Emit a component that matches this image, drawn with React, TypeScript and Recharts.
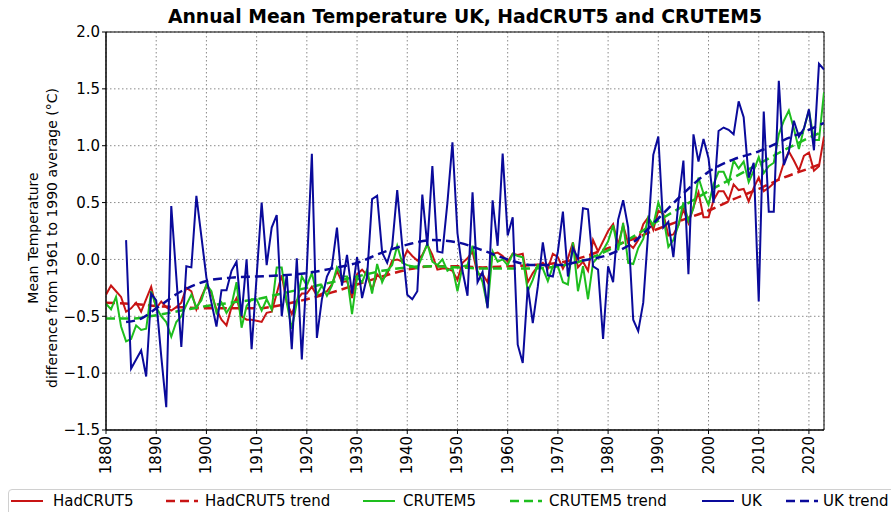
import React from "react";
import { LineChart, Line, XAxis, YAxis, CartesianGrid, ReferenceArea } from "recharts";

const FIRST_YEAR = 1880;
const UK_FIRST_YEAR = 1884;
const X_TICKS = [1880, 1890, 1900, 1910, 1920, 1930, 1940, 1950, 1960, 1970, 1980, 1990, 2000, 2010, 2020];
const Y_TICKS = [-1.5, -1.0, -0.5, 0.0, 0.5, 1.0, 1.5, 2.0];

const TITLE = "Annual Mean Temperature UK, HadCRUT5 and CRUTEM5";
const Y_LABEL_1 = "Mean Temperature";
const Y_LABEL_2 = "difference from 1961 to 1990 average (°C)";

// HadCRUT5 annual values 1880..2023
const HADCRUT5 = [
  -0.31, -0.23, -0.28, -0.33, -0.46, -0.43, -0.38, -0.46, -0.35, -0.24,
  -0.43, -0.37, -0.42, -0.45, -0.42, -0.38, -0.25, -0.28, -0.44, -0.33,
  -0.23, -0.30, -0.44, -0.53, -0.58, -0.42, -0.34, -0.50, -0.53, -0.53,
  -0.54, -0.55, -0.47, -0.46, -0.30, -0.14, -0.38, -0.48, -0.36, -0.30,
  -0.30, -0.24, -0.32, -0.30, -0.28, -0.22, -0.10, -0.20, -0.19, -0.34,
  -0.13, -0.09, -0.14, -0.27, -0.13, -0.18, -0.13, -0.01, 0.00, -0.02,
  0.08, 0.03, -0.01, 0.04, 0.13, 0.04, -0.09, -0.08, -0.08, -0.10,
  -0.18, -0.03, 0.01, 0.07, -0.13, -0.13, -0.20, 0.05, 0.06, 0.03,
  -0.02, 0.05, 0.04, 0.05, -0.20, -0.12, -0.06, -0.03, -0.08, 0.05,
  0.02, -0.08, 0.01, 0.15, -0.07, -0.02, -0.10, 0.17, 0.07, 0.16,
  0.25, 0.31, 0.13, 0.30, 0.14, 0.10, 0.17, 0.31, 0.37, 0.26,
  0.43, 0.40, 0.21, 0.22, 0.30, 0.44, 0.32, 0.46, 0.59, 0.37,
  0.37, 0.52, 0.60, 0.60, 0.52, 0.66, 0.61, 0.62, 0.51, 0.63,
  0.72, 0.60, 0.63, 0.67, 0.71, 0.85, 0.95, 0.87, 0.78, 0.91,
  0.94, 0.78, 0.82, 1.08,
];

// CRUTEM5 annual values 1880..2023
const CRUTEM5 = [
  -0.39, -0.44, -0.33, -0.59, -0.72, -0.70, -0.58, -0.62, -0.61, -0.28,
  -0.42, -0.50, -0.55, -0.68, -0.55, -0.50, -0.40, -0.31, -0.42, -0.36,
  -0.22, -0.28, -0.47, -0.38, -0.47, -0.40, -0.20, -0.60, -0.41, -0.35,
  -0.35, -0.45, -0.35, -0.44, -0.07, -0.07, -0.38, -0.61, -0.38, -0.15,
  -0.23, -0.12, -0.31, -0.23, -0.32, -0.23, -0.07, -0.15, -0.15, -0.48,
  -0.16, -0.20, -0.09, -0.30, -0.04, -0.20, -0.10, -0.05, 0.12, -0.03,
  -0.05, -0.06, -0.08, 0.03, 0.14, -0.02, -0.05, 0.00, -0.10, -0.07,
  -0.28, -0.06, -0.05, 0.12, -0.10, -0.20, -0.42, 0.07, -0.02, 0.00,
  -0.05, 0.05, 0.03, 0.02, -0.28, -0.18, -0.05, -0.08, -0.19, -0.06,
  -0.06, -0.20, -0.22, 0.15, -0.28, -0.06, -0.35, -0.03, 0.02, 0.08,
  0.16, 0.30, 0.08, 0.32, -0.03, -0.04, 0.10, 0.18, 0.37, 0.30,
  0.50, 0.38, 0.11, 0.17, 0.30, 0.50, 0.34, 0.45, 0.72, 0.58,
  0.48, 0.66, 0.77, 0.77, 0.67, 0.87, 0.80, 0.86, 0.68, 0.78,
  0.90, 0.76, 0.82, 0.85, 1.10, 1.22, 1.31, 1.15, 0.97, 1.15,
  1.31, 1.05, 1.05, 1.47,
];

// UK annual values 1884..2023
const UK = [
  0.17, -0.96, -0.88, -0.80, -1.03, -0.30, -0.36, -0.85, -1.30, 0.47,
  -0.15, -0.77, -0.06, -0.07, 0.56, 0.20, -0.16, -0.38, -0.59, -0.27,
  -0.27, -0.10, -0.02, -0.50, 0.00, -0.79, -0.15, 0.50, -0.05, 0.28,
  0.39, -0.50, -0.13, -0.79, 0.01, -0.88, -0.08, 0.93, -0.69, -0.35,
  -0.15, -0.06, 0.28, -0.23, 0.04, -0.30, 0.02, -0.34, -0.15, 0.53,
  0.56, 0.06, -0.03, 0.12, 0.61, 0.12, -0.31, -0.35, -0.28, 0.57,
  0.12, 0.82, 0.07, 0.06, 0.50, 1.03, 0.23, -0.10, -0.32, 0.59,
  -0.20, -0.11, -0.43, 0.52, 0.12, 0.93, 0.21, 0.37, -0.75, -0.91,
  -0.24, -0.56, -0.24, 0.15, -0.14, -0.15, 0.07, 0.42, -0.15, 0.10,
  0.01, 0.45, 0.44, -0.06, -0.09, -0.70, -0.06, -0.20, 0.35, 0.52,
  0.28, -0.53, -0.63, -0.38, 0.25, 0.92, 1.08, 0.28, 0.33, 0.02,
  0.50, 0.87, -0.13, 1.10, 0.86, 1.06, 0.89, 0.50, 1.13, 1.16,
  1.14, 1.10, 1.39, 1.25, 0.72, 0.85, -0.37, 1.30, 0.42, 0.42,
  1.57, 0.83, 0.95, 1.22, 1.08, 1.15, 1.32, 0.96, 1.72, 1.67,
];

// Trend lines (read at intervals)
const HADCRUT5_TREND_YEARS = [1880, 1885, 1890, 1895, 1900, 1905, 1910, 1915, 1920, 1925, 1930, 1935, 1940, 1945, 1950, 1955, 1960, 1965, 1970, 1975, 1980, 1985, 1990, 1995, 2000, 2005, 2010, 2015, 2020, 2023];
const HADCRUT5_TREND = [-0.38, -0.39, -0.41, -0.42, -0.43, -0.43, -0.43, -0.40, -0.35, -0.29, -0.22, -0.15, -0.09, -0.06, -0.06, -0.07, -0.06, -0.05, -0.03, 0.02, 0.10, 0.18, 0.27, 0.35, 0.43, 0.53, 0.62, 0.72, 0.80, 0.85];

const CRUTEM5_TREND_YEARS = [1880, 1885, 1890, 1895, 1900, 1905, 1910, 1915, 1920, 1925, 1930, 1935, 1940, 1945, 1950, 1955, 1960, 1965, 1970, 1975, 1980, 1985, 1990, 1995, 2000, 2005, 2010, 2015, 2020, 2023];
const CRUTEM5_TREND = [-0.52, -0.52, -0.49, -0.45, -0.41, -0.38, -0.35, -0.30, -0.25, -0.20, -0.15, -0.10, -0.07, -0.06, -0.07, -0.08, -0.08, -0.08, -0.06, -0.01, 0.08, 0.20, 0.34, 0.47, 0.60, 0.72, 0.84, 0.96, 1.07, 1.13];

const UK_TREND_YEARS = [1884, 1887, 1890, 1895, 1900, 1905, 1910, 1915, 1920, 1925, 1930, 1935, 1940, 1945, 1950, 1955, 1960, 1965, 1970, 1975, 1980, 1985, 1990, 1995, 2000, 2005, 2010, 2015, 2020, 2023];
const UK_TREND = [-0.55, -0.52, -0.43, -0.28, -0.19, -0.16, -0.15, -0.14, -0.12, -0.08, -0.03, 0.06, 0.13, 0.17, 0.15, 0.08, 0.00, -0.05, -0.05, -0.01, 0.04, 0.15, 0.36, 0.58, 0.77, 0.88, 0.95, 1.05, 1.14, 1.20];

const RED = "#c81414";
const GREEN = "#1ebe1e";
const BLUE = "#0a0a9b";
const FONT = "'DejaVu Sans', sans-serif";
const FS = 15;

const annual = HADCRUT5.map((v, i) => {
  const year = FIRST_YEAR + i;
  const ui = year - UK_FIRST_YEAR;
  return { year, hadcrut5: v, crutem5: CRUTEM5[i], uk: ui >= 0 ? UK[ui] : null };
});
const hadTrend = HADCRUT5_TREND_YEARS.map((year, i) => ({ year, value: HADCRUT5_TREND[i] }));
const cruTrend = CRUTEM5_TREND_YEARS.map((year, i) => ({ year, value: CRUTEM5_TREND[i] }));
const ukTrend = UK_TREND_YEARS.map((year, i) => ({ year, value: UK_TREND[i] }));

const fmtY = (v: number) => v.toFixed(1).replace("-", "\u2212");

const XTick = (props: any) => {
  const { x, y, payload } = props;
  return (
    <text
      x={x}
      y={y}
      transform={`rotate(-90, ${x}, ${y})`}
      textAnchor="end"
      dominantBaseline="central"
      fontFamily={FONT}
      fontSize={FS}
      fill="#000"
    >
      {payload.value}
    </text>
  );
};

const LEGEND_ITEMS = [
  { label: "HadCRUT5", color: RED, dashed: false, hx: 11, tx: 53 },
  { label: "HadCRUT5 trend", color: RED, dashed: true, hx: 166, tx: 205 },
  { label: "CRUTEM5", color: GREEN, dashed: false, hx: 363, tx: 403 },
  { label: "CRUTEM5 trend", color: GREEN, dashed: true, hx: 510, tx: 549 },
  { label: "UK", color: BLUE, dashed: false, hx: 702, tx: 741 },
  { label: "UK trend", color: BLUE, dashed: true, hx: 786, tx: 823 },
];

export default function App() {
  return (
    <div
      style={{
        position: "absolute",
        left: 0,
        top: 0,
        width: 891,
        height: 512,
        overflow: "hidden",
        background: "#fff",
        fontFamily: FONT,
      }}
    >
      <div
        style={{
          position: "absolute",
          left: 106,
          width: 718,
          top: 6,
          textAlign: "center",
          fontWeight: "bold",
          fontSize: 18.8,
          lineHeight: "normal",
          whiteSpace: "nowrap",
          color: "#000",
        }}
      >
        {TITLE}
      </div>
      <div
        style={{
          position: "absolute",
          left: 42.5,
          top: 238,
          transform: "translate(-50%, -50%) rotate(-90deg)",
          textAlign: "center",
          fontSize: 14,
          lineHeight: "19px",
          whiteSpace: "nowrap",
          color: "#000",
        }}
      >
        <div>{Y_LABEL_1}</div>
        <div>{Y_LABEL_2}</div>
      </div>
      <div style={{ position: "absolute", left: 0, top: 0 }}>
        <LineChart
          width={891}
          height={512}
          data={annual}
          margin={{ top: 32, right: 67, bottom: 22, left: 46 }}
        >
          <CartesianGrid stroke="#8a8a8a" strokeDasharray="1.5 2.5" strokeWidth={1} />
          <XAxis
            dataKey="year"
            type="number"
            domain={[1880, 2023]}
            ticks={X_TICKS}
            interval={0}
            allowDataOverflow
            height={60}
            tickSize={4}
            tick={<XTick />}
            stroke="#000"
            tickLine={{ stroke: "#000" }}
          />
          <YAxis
            type="number"
            domain={[-1.5, 2.0]}
            ticks={Y_TICKS}
            interval={0}
            allowDataOverflow
            width={60}
            tickSize={4}
            tickFormatter={fmtY}
            tick={{ fontSize: FS, fill: "#000", fontFamily: FONT }}
            stroke="#000"
            tickLine={{ stroke: "#000" }}
          />
          <ReferenceArea x1={1880} x2={2023} y1={-1.5} y2={2.0} fill="none" stroke="#000" strokeWidth={1} ifOverflow="visible" />
          <Line dataKey="hadcrut5" stroke={RED} strokeWidth={2} dot={false} isAnimationActive={false} type="linear" />
          <Line data={hadTrend} dataKey="value" stroke={RED} strokeWidth={2.5} strokeDasharray="9 5" dot={false} isAnimationActive={false} type="monotone" />
          <Line dataKey="crutem5" stroke={GREEN} strokeWidth={2} dot={false} isAnimationActive={false} type="linear" />
          <Line data={cruTrend} dataKey="value" stroke={GREEN} strokeWidth={2.5} strokeDasharray="9 5" dot={false} isAnimationActive={false} type="monotone" />
          <Line dataKey="uk" stroke={BLUE} strokeWidth={2} dot={false} isAnimationActive={false} type="linear" />
          <Line data={ukTrend} dataKey="value" stroke={BLUE} strokeWidth={2.5} strokeDasharray="9 5" dot={false} isAnimationActive={false} type="monotone" />
        </LineChart>
      </div>
      <div
        style={{
          position: "absolute",
          left: 8,
          top: 489,
          width: 920,
          height: 40,
          border: "1px solid #d0d0d0",
          borderRadius: 4,
          background: "rgba(255,255,255,0.85)",
        }}
      />
      {LEGEND_ITEMS.map((it) => (
        <React.Fragment key={it.label}>
          <svg style={{ position: "absolute", left: it.hx, top: 496 }} width={32} height={10}>
            <line
              x1={0}
              y1={5}
              x2={32}
              y2={5}
              stroke={it.color}
              strokeWidth={it.dashed ? 2.5 : 2}
              strokeDasharray={it.dashed ? "9 5" : undefined}
            />
          </svg>
          <div
            style={{
              position: "absolute",
              left: it.tx,
              top: 492,
              fontSize: FS,
              lineHeight: "18px",
              whiteSpace: "nowrap",
              color: "#000",
            }}
          >
            {it.label}
          </div>
        </React.Fragment>
      ))}
    </div>
  );
}
